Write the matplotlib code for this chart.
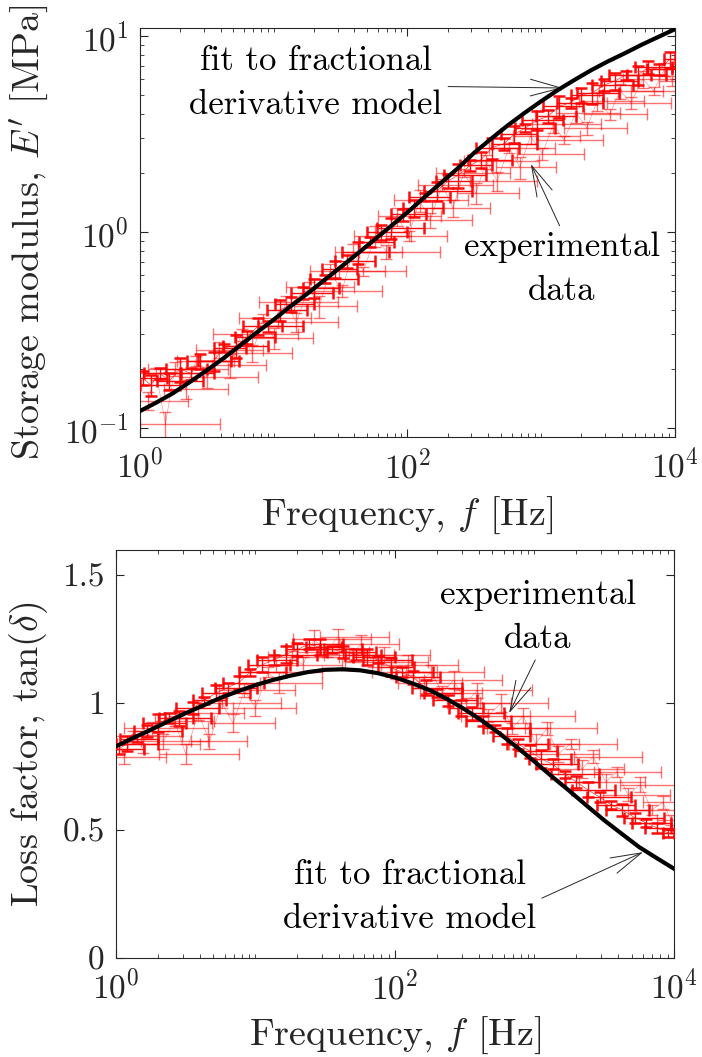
import numpy as np
import matplotlib
matplotlib.use("Agg")
import matplotlib.pyplot as plt
from matplotlib.ticker import LogLocator, NullFormatter, NullLocator

# ==========================================
# 1. Data
# ==========================================
# measurement set A (solid red) and set B (faded red), frequencies in Hz
freq_a = [1.05, 1.20, 1.41, 1.66, 2.00, 2.40, 2.82, 3.55, 4.27, 5.25,
          6.31, 7.59, 9.12, 11.2, 13.5, 16.6, 20.0, 24.0, 28.8, 35.5,
          42.7, 52.5, 63.1, 75.9, 93.3, 112, 135, 166, 200, 240,
          295, 355, 427, 525, 631, 759, 933, 1120, 1350, 1660,
          2000, 2400, 2950, 3550, 4270, 5250, 6310, 7590, 9120]
freq_b = [1.15, 1.32, 1.55, 1.82, 2.19, 2.63, 3.16, 3.89, 4.68, 5.75,
          6.92, 8.32, 10.0, 12.3, 14.8, 18.2, 21.9, 26.3, 32.4, 38.9,
          46.8, 57.5, 69.2, 83.2, 102, 123, 148, 182, 219, 263,
          324, 389, 468, 575, 692, 832, 1020, 1230, 1480, 1820,
          2190, 2630, 3240, 3890, 4680, 5750, 6920, 8320, 9550]

# storage modulus E' [MPa]
storage_a = [0.18, 0.166, 0.19, 0.174, 0.20, 0.19, 0.22, 0.22, 0.257, 0.263,
             0.29, 0.33, 0.33, 0.40, 0.43, 0.49, 0.52, 0.575, 0.645, 0.71,
             0.79, 0.89, 1.0, 1.05, 1.23, 1.32, 1.51, 1.62, 1.82, 1.95,
             2.19, 2.34, 2.69, 2.82, 3.16, 3.39, 3.72, 3.89, 4.37, 4.57,
             5.01, 5.13, 5.62, 5.89, 6.31, 6.31, 6.92, 6.76, 7.59]
storage_b = [0.138, 0.19, 0.105, 0.20, 0.158, 0.22, 0.182, 0.251, 0.209, 0.30,
             0.24, 0.363, 0.288, 0.437, 0.347, 0.525, 0.417, 0.63, 0.50, 0.794,
             0.63, 0.955, 0.794, 1.20, 0.955, 1.45, 1.15, 1.74, 1.32, 2.0,
             1.58, 2.29, 1.82, 2.69, 2.14, 3.09, 2.51, 3.55, 2.95, 4.07,
             3.39, 4.68, 3.98, 5.25, 4.57, 6.03, 5.25, 6.76, 5.89]

# loss factor tan(delta)
loss_a = [0.82, 0.84, 0.86, 0.89, 0.92, 0.94, 0.94, 0.98, 1.01, 1.04,
          1.06, 1.08, 1.12, 1.15, 1.17, 1.19, 1.21, 1.23, 1.22, 1.21,
          1.20, 1.19, 1.18, 1.17, 1.14, 1.12, 1.10, 1.06, 1.04, 1.01,
          0.98, 0.96, 0.93, 0.90, 0.87, 0.84, 0.81, 0.78, 0.76, 0.72,
          0.69, 0.66, 0.63, 0.60, 0.58, 0.55, 0.53, 0.51, 0.49]
loss_b = [0.79, 0.87, 0.84, 0.90, 0.85, 0.93, 0.80, 0.96, 0.85, 1.00,
          0.92, 1.05, 0.98, 1.12, 1.08, 1.18, 1.15, 1.25, 1.20, 1.26,
          1.19, 1.23, 1.16, 1.19, 1.12, 1.15, 1.08, 1.12, 1.04, 1.09,
          1.00, 1.05, 0.95, 1.00, 0.90, 0.95, 0.84, 0.90, 0.80, 0.84,
          0.74, 0.79, 0.69, 0.73, 0.64, 0.68, 0.58, 0.61, 0.54]

# frequency uncertainty, decades below / above each point
dec_lo_a = [0.10, 0.08, 0.12, 0.09, 0.11, 0.07, 0.10, 0.12, 0.08, 0.10,
            0.09, 0.11, 0.08, 0.10, 0.12, 0.09, 0.08, 0.11, 0.10, 0.09,
            0.12, 0.08, 0.10, 0.11, 0.09, 0.08, 0.12, 0.10, 0.09, 0.11,
            0.08, 0.10, 0.12, 0.09, 0.10, 0.08, 0.11, 0.09, 0.12, 0.10,
            0.08, 0.11, 0.09, 0.10, 0.12, 0.08, 0.10, 0.09, 0.04]
dec_hi_a = [0.18, 0.22, 0.15, 0.25, 0.20, 0.17, 0.23, 0.19, 0.16, 0.24,
            0.21, 0.18, 0.26, 0.20, 0.17, 0.22, 0.19, 0.25, 0.16, 0.21,
            0.23, 0.18, 0.20, 0.24, 0.17, 0.22, 0.19, 0.26, 0.18, 0.21,
            0.16, 0.23, 0.20, 0.25, 0.17, 0.22, 0.19, 0.21, 0.18, 0.24,
            0.16, 0.20, 0.22, 0.17, 0.19, 0.21, 0.18, 0.10, 0.04]
dec_lo_b = [0.15, 0.18, 0.19, 0.20, 0.16, 0.14, 0.19, 0.17, 0.13, 0.21,
            0.15, 0.18, 0.16, 0.20, 0.14, 0.17, 0.19, 0.15, 0.21, 0.13,
            0.18, 0.16, 0.20, 0.14, 0.17, 0.19, 0.15, 0.18, 0.16, 0.21,
            0.14, 0.17, 0.20, 0.15, 0.18, 0.13, 0.19, 0.16, 0.20, 0.15,
            0.17, 0.14, 0.19, 0.16, 0.18, 0.15, 0.17, 0.14, 0.10]
dec_hi_b = [0.30, 0.35, 0.41, 0.40, 0.32, 0.28, 0.38, 0.33, 0.27, 0.42,
            0.30, 0.36, 0.29, 0.39, 0.31, 0.34, 0.28, 0.41, 0.30, 0.37,
            0.32, 0.27, 0.40, 0.33, 0.29, 0.36, 0.31, 0.38, 0.28, 0.35,
            0.32, 0.39, 0.30, 0.34, 0.27, 0.37, 0.31, 0.36, 0.29, 0.33,
            0.30, 0.35, 0.28, 0.32, 0.30, 0.26, 0.20, 0.15, 0.10]

# relative uncertainty of E'
storage_rel_a = [0.08, 0.12, 0.06, 0.10, 0.14, 0.07, 0.09, 0.11, 0.05, 0.13,
                 0.08, 0.10, 0.06, 0.12, 0.09, 0.07, 0.11, 0.05, 0.10, 0.08,
                 0.13, 0.06, 0.09, 0.12, 0.07, 0.10, 0.05, 0.11, 0.08, 0.14,
                 0.06, 0.09, 0.12, 0.07, 0.10, 0.05, 0.11, 0.08, 0.13, 0.06,
                 0.09, 0.12, 0.07, 0.10, 0.05, 0.11, 0.08, 0.06, 0.09]
storage_rel_b = [0.10, 0.07, 0.15, 0.08, 0.11, 0.06, 0.12, 0.09, 0.14, 0.07,
                 0.10, 0.05, 0.12, 0.08, 0.11, 0.06, 0.13, 0.09, 0.07, 0.10,
                 0.05, 0.12, 0.08, 0.11, 0.06, 0.13, 0.09, 0.07, 0.10, 0.05,
                 0.12, 0.08, 0.11, 0.06, 0.13, 0.09, 0.07, 0.10, 0.05, 0.12,
                 0.08, 0.11, 0.06, 0.09, 0.07, 0.10, 0.05, 0.08, 0.06]

# absolute uncertainty of tan(delta)
loss_err_a = [0.02, 0.03, 0.015, 0.025, 0.035, 0.02, 0.03, 0.025, 0.015, 0.03,
              0.02, 0.025, 0.015, 0.03, 0.02, 0.035, 0.025, 0.02, 0.03, 0.015,
              0.025, 0.02, 0.03, 0.015, 0.035, 0.02, 0.025, 0.03, 0.015, 0.02,
              0.03, 0.025, 0.02, 0.015, 0.03, 0.02, 0.025, 0.035, 0.02, 0.015,
              0.025, 0.03, 0.02, 0.015, 0.025, 0.02, 0.015, 0.02, 0.015]
loss_err_b = [0.03, 0.02, 0.035, 0.025, 0.03, 0.02, 0.04, 0.025, 0.03, 0.02,
              0.035, 0.025, 0.03, 0.02, 0.04, 0.025, 0.03, 0.035, 0.02, 0.03,
              0.025, 0.035, 0.02, 0.03, 0.025, 0.04, 0.02, 0.03, 0.025, 0.035,
              0.02, 0.03, 0.025, 0.035, 0.02, 0.03, 0.04, 0.025, 0.03, 0.02,
              0.035, 0.025, 0.03, 0.02, 0.025, 0.03, 0.02, 0.025, 0.02]

# fractional derivative model fit, sampled every eighth of a decade
fit_freq = [1.0, 1.33, 1.78, 2.37, 3.16, 4.22, 5.62, 7.50, 10.0, 13.3, 17.8,
            23.7, 31.6, 42.2, 56.2, 75.0, 100, 133, 178, 237, 316, 422,
            562, 750, 1000, 1330, 1780, 2370, 3160, 4220, 5620, 7500, 10000]
fit_storage = [0.122, 0.135, 0.151, 0.172, 0.197, 0.227, 0.264, 0.308, 0.357,
               0.417, 0.484, 0.566, 0.661, 0.775, 0.910, 1.07, 1.26, 1.50,
               1.78, 2.11, 2.54, 2.99, 3.50, 4.05, 4.65, 5.30, 5.98, 6.70,
               7.43, 8.17, 9.02, 9.89, 10.84]
fit_loss = [0.83, 0.863, 0.895, 0.928, 0.96, 0.99, 1.02, 1.046, 1.07, 1.09,
            1.107, 1.121, 1.13, 1.132, 1.128, 1.117, 1.10, 1.077, 1.05, 1.015,
            0.975, 0.93, 0.88, 0.826, 0.77, 0.712, 0.655, 0.597, 0.54, 0.487,
            0.435, 0.392, 0.35]

# axis ticks
freq_ticks = [1, 100, 10000]
storage_ticks = [0.1, 1, 10]
loss_ticks = [0, 0.5, 1, 1.5]
loss_tick_labels = ['0', '0.5', '1', '1.5']

# arrow targets for the annotations (frequency, value)
top_fit_target = (1450, 5.43)
top_data_target = (837, 2.22)
bot_data_target = (658, 0.96)
bot_fit_target = (6000, 0.415)

# ==========================================
# 2. Style
# ==========================================
plt.rcParams['font.family'] = 'cmr10'
plt.rcParams['mathtext.fontset'] = 'cm'
plt.rcParams['axes.formatter.use_mathtext'] = True
plt.rcParams['axes.unicode_minus'] = True

EDGE = '#262626'
RED = '#ff0000'
TICK_SIZE = 24
LABEL_SIZE = 27.5
NOTE_SIZE = 25


def xerr_from_decades(f, lo, hi):
    f = np.asarray(f, dtype=float)
    return [f - f / 10 ** np.asarray(lo), f * 10 ** np.asarray(hi) - f]


def style_axes(ax):
    for s in ax.spines.values():
        s.set_color(EDGE)
        s.set_linewidth(0.8)
    ax.tick_params(which='both', direction='in', top=True, right=True,
                   color=EDGE, labelcolor=EDGE, labelsize=TICK_SIZE)
    ax.tick_params(which='major', length=6, width=0.8, pad=8)
    ax.tick_params(which='minor', length=3, width=0.6)


def draw_sets(ax, yvals_a, yerr_a, yvals_b, yerr_b):
    ax.errorbar(freq_b, yvals_b,
                xerr=xerr_from_decades(freq_b, dec_lo_b, dec_hi_b),
                yerr=yerr_b, fmt='-', color=RED, lw=0.35, elinewidth=1.0,
                capsize=4, capthick=1.0, alpha=0.55, zorder=2)
    ax.errorbar(freq_a, yvals_a,
                xerr=xerr_from_decades(freq_a, dec_lo_a, dec_hi_a),
                yerr=yerr_a, fmt='-', color=RED, lw=0.4, elinewidth=1.0,
                capsize=4.5, capthick=1.8, alpha=0.95, zorder=3)


arrow = dict(arrowstyle='->,head_length=1.1,head_width=0.3', color=EDGE,
             lw=0.7, mutation_scale=20, shrinkA=2, shrinkB=0)
note = dict(ha='center', va='center', fontsize=NOTE_SIZE, color='black',
            linespacing=1.5, textcoords='axes fraction')

fig = plt.figure(figsize=(7.02, 10.57), dpi=100)

# ==========================================
# 3. Storage modulus
# ==========================================
ax1 = fig.add_axes([0.1994, 0.5866, 0.7621, 0.3870])
draw_sets(ax1, storage_a, np.array(storage_a) * np.array(storage_rel_a),
          storage_b, np.array(storage_b) * np.array(storage_rel_b))
ax1.plot(fit_freq, fit_storage, color='black', lw=3, zorder=5)
ax1.set_xscale('log')
ax1.set_yscale('log')
ax1.set_xlim(1, 1e4)
ax1.set_ylim(0.09, 11)
ax1.set_xticks(freq_ticks)
ax1.set_yticks(storage_ticks)
ax1.xaxis.set_minor_locator(LogLocator(base=10, subs=np.arange(1, 10), numticks=20))
ax1.yaxis.set_minor_locator(LogLocator(base=10, subs=np.arange(1, 10), numticks=20))
ax1.xaxis.set_minor_formatter(NullFormatter())
ax1.yaxis.set_minor_formatter(NullFormatter())
style_axes(ax1)
ax1.set_xlabel(r'Frequency, $f$ [Hz]', fontsize=LABEL_SIZE, color=EDGE, labelpad=8)
ax1.set_ylabel(r"Storage modulus, $E'$ [MPa]", fontsize=LABEL_SIZE, color=EDGE)
ax1.yaxis.set_label_coords(-0.168, 0.5)

ax1.annotate('fit to fractional\nderivative model', xy=top_fit_target,
             xytext=(0.329, 0.866), arrowprops=dict(arrow, relpos=(1.0, 0.45)),
             **note)
ax1.annotate('experimental\ndata', xy=top_data_target,
             xytext=(0.789, 0.411), arrowprops=dict(arrow, relpos=(0.5, 1.0)),
             **note)

# ==========================================
# 4. Loss factor
# ==========================================
ax2 = fig.add_axes([0.1652, 0.0937, 0.7949, 0.3860])
draw_sets(ax2, loss_a, loss_err_a, loss_b, loss_err_b)
ax2.plot(fit_freq, fit_loss, color='black', lw=3, zorder=5)
ax2.set_xscale('log')
ax2.set_xlim(1, 1e4)
ax2.set_ylim(0, 1.6)
ax2.set_xticks(freq_ticks)
ax2.set_yticks(loss_ticks, labels=loss_tick_labels)
ax2.xaxis.set_minor_locator(LogLocator(base=10, subs=np.arange(1, 10), numticks=20))
ax2.xaxis.set_minor_formatter(NullFormatter())
ax2.yaxis.set_minor_locator(NullLocator())
style_axes(ax2)
ax2.set_xlabel(r'Frequency, $f$ [Hz]', fontsize=LABEL_SIZE, color=EDGE, labelpad=7)
ax2.set_ylabel(r'Loss factor, tan($\delta$)', fontsize=LABEL_SIZE, color=EDGE)
ax2.yaxis.set_label_coords(-0.118, 0.5)

ax2.annotate('experimental\ndata', xy=bot_data_target,
             xytext=(0.756, 0.836), arrowprops=dict(arrow, relpos=(0.5, 0.0)),
             **note)
ax2.annotate('fit to fractional\nderivative model', xy=bot_fit_target,
             xytext=(0.527, 0.150), arrowprops=dict(arrow, relpos=(1.0, 0.45)),
             **note)

fig.savefig('out.png', dpi=100)
